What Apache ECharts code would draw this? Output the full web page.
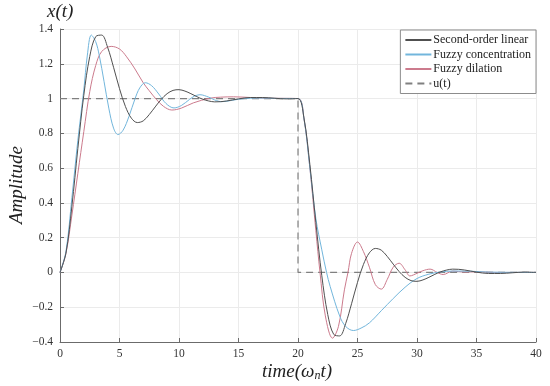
<!DOCTYPE html>
<html>
<head>
<meta charset="utf-8">
<script src="https://cdn.jsdelivr.net/npm/echarts@6/dist/echarts.min.js"></script>
<style>html,body{margin:0;padding:0;background:#fff}#c{width:550px;height:386px}</style>
</head>
<body>
<div id="c"></div>
<script>
const seriesNames = ['Second-order linear', 'Fuzzy concentration', 'Fuzzy dilation', 'u(t)'];
const xTicks = [0, 5, 10, 15, 20, 25, 30, 35, 40];
const yTicks = [-0.4, -0.2, 0, 0.2, 0.4, 0.6, 0.8, 1, 1.2, 1.4];

const linearData = [
  [0,0],[0.5,0.111],[1,0.381],[1.5,0.713],[2,1.019],[2.5,1.242],[3,1.356],[3.5,1.365],[4,1.295],[4.5,1.18],
  [5,1.057],[5.5,0.954],[6,0.887],[6.5,0.862],[7,0.872],[7.5,0.908],[8,0.952],[8.5,0.995],[9,1.028],[9.5,1.047],
  [10,1.051],[10.5,1.043],[11,1.028],[11.5,1.011],[12,0.996],[12.5,0.986],[13,0.981],[13.5,0.982],[14,0.986],
  [15,0.998],[16,1.006],[17,1.006],[18,1.002],[19,0.998],[20,1.0],
  [20.5,0.889],[21,0.619],[21.5,0.287],[22,-0.019],[22.5,-0.242],[23,-0.356],[23.5,-0.365],[24,-0.295],[24.5,-0.18],
  [25,-0.057],[25.5,0.046],[26,0.113],[26.5,0.138],[27,0.128],[27.5,0.092],[28,0.048],[28.5,0.005],[29,-0.028],
  [29.5,-0.047],[30,-0.051],[30.5,-0.043],[31,-0.028],[31.5,-0.011],[32,0.004],[32.5,0.014],[33,0.019],[33.5,0.018],
  [34,0.014],[35,0.002],[36,-0.006],[37,-0.006],[38,-0.002],[39,0.002],[40,0]
];
const concentrationData = [
  [0,0],[0.5,0.12],[1,0.43],[1.5,0.76],[2,1.05],[2.3,1.25],[2.63,1.365],[3,1.327],[3.3,1.248],[3.7,1.099],
  [4.1,0.945],[4.5,0.83],[4.87,0.793],[5.3,0.818],[5.8,0.898],[6.3,0.998],[6.7,1.061],[7.17,1.091],[7.7,1.074],
  [8.3,1.026],[8.9,0.972],[9.58,0.946],[10.2,0.96],[10.9,0.996],[11.3,1.014],[11.76,1.022],[12.5,1.008],[13,0.992],
  [13.6,0.982],[14.3,0.988],[15,0.996],[16,1.002],[17,1.003],[18,1.001],[20,1.0],
  [20.5,0.885],[21,0.6],[21.5,0.31],[22,0.13],[22.4,0],[22.7,-0.08],[23.5,-0.25],[24,-0.31],[24.65,-0.334],
  [25.3,-0.32],[26,-0.29],[27,-0.22],[28,-0.15],[29,-0.085],[30,-0.035],[31,-0.01],[32,0.003],[33,0.008],
  [34.5,0.007],[36,0.002],[40,0]
];
const dilationData = [
  [0,0],[0.5,0.11],[1,0.33],[1.5,0.57],[2,0.81],[2.5,1.04],[3,1.19],[3.5,1.27],[4.3,1.30],[5,1.285],
  [5.6,1.24],[6.3,1.17],[7,1.09],[7.5,1.045],[8.1,0.995],[8.7,0.955],[9.4,0.934],[10.2,0.945],[11.2,0.975],
  [12.6,1.002],[13.5,1.008],[14.6,1.01],[16,1.006],[17.5,1.002],[20,1.0],
  [20.5,0.885],[21,0.6],[21.5,0.24],[21.85,0],[22.3,-0.25],[22.9,-0.378],[23.4,-0.31],[23.9,-0.1],[24.2,0],
  [24.5,0.11],[25,0.175],[25.5,0.12],[26,0.03],[26.5,-0.07],[27,-0.096],[27.5,-0.04],[28,0.03],[28.5,0.053],
  [29,0.015],[29.4,-0.02],[30,-0.005],[30.5,0.01],[31.1,0.019],[31.7,0],[32.2,-0.012],[33,0.008],[34,0.002],
  [35,0.004],[36.5,0],[40,0]
];
const stepData = [[0,1],[20,1],[20,0],[40,0]];

const serif = '"Liberation Serif", "DejaVu Serif", serif';
const chart = echarts.init(document.getElementById('c'), null, {renderer: 'canvas'});
const axisCol = '#6b6b6b';
function fmt(v) {
  const s = String(+(+v).toFixed(1));
  return s.replace('-', '\u2212');
}
chart.setOption({
  animation: false,
  backgroundColor: '#ffffff',
  grid: {left: 60, right: 14, top: 29, bottom: 44, containLabel: false},
  xAxis: {
    type: 'value', min: xTicks[0], max: xTicks[xTicks.length - 1], interval: 5,
    axisLine: {onZero: false, lineStyle: {color: axisCol, width: 1}},
    axisTick: {inside: true, length: 4, lineStyle: {color: axisCol}},
    axisLabel: {color: '#333', fontFamily: serif, fontSize: 11.5, margin: 6, formatter: fmt},
    splitLine: {show: true, lineStyle: {color: '#ebebeb', width: 1}}
  },
  yAxis: {
    type: 'value', min: yTicks[0], max: yTicks[yTicks.length - 1], interval: 0.2,
    axisLine: {show: true, onZero: false, lineStyle: {color: axisCol, width: 1}},
    axisTick: {show: true, inside: true, length: 4, lineStyle: {color: axisCol}},
    axisLabel: {color: '#333', fontFamily: serif, fontSize: 11.5, margin: 7, formatter: fmt},
    splitLine: {show: true, lineStyle: {color: '#ebebeb', width: 1}}
  },
  legend: {
    orient: 'vertical', right: 14, top: 30,
    data: seriesNames,
    backgroundColor: '#fff', borderColor: '#8c8c8c', borderWidth: 1,
    padding: [4, 5, 4, 4], itemGap: 2.5, itemWidth: 26, itemHeight: 11,
    itemStyle: {opacity: 0, borderWidth: 0},
    textStyle: {fontFamily: serif, fontSize: 12, color: '#222', padding: [0, 0, 0, -3]}
  },
  series: [
    {name: seriesNames[0], type: 'line', data: linearData, smooth: 0.35, symbol: 'none',
     lineStyle: {color: '#505050', width: 1}, itemStyle: {color: '#505050'}, z: 4},
    {name: seriesNames[1], type: 'line', data: concentrationData, smooth: 0.35, symbol: 'none',
     lineStyle: {color: '#72b6dc', width: 1}, itemStyle: {color: '#72b6dc'}, z: 3},
    {name: seriesNames[2], type: 'line', data: dilationData, smooth: 0.35, symbol: 'none',
     lineStyle: {color: '#cc7b8d', width: 1}, itemStyle: {color: '#cc7b8d'}, z: 2},
    {name: seriesNames[3], type: 'line', data: stepData, symbol: 'none',
     lineStyle: {color: '#808080', width: 1.2, type: [7, 5]}, itemStyle: {color: '#808080'}, z: 1}
  ],
  graphic: [
    {type: 'text', left: 47, top: 2,
     style: {text: 'x(t)', font: 'italic 19px ' + serif, fill: '#222'}},
    {type: 'text', x: 17, y: 185, rotation: Math.PI / 2,
     style: {text: 'Amplitude', font: 'italic 19px ' + serif, fill: '#222', textAlign: 'center', textVerticalAlign: 'middle'}},
    {type: 'text', x: 297, y: 372,
     style: {text: '{a|time(ω}{s|n}{a|t)}', textAlign: 'center', textVerticalAlign: 'middle',
       rich: {a: {font: 'italic 19px ' + serif, fill: '#222', color: '#222'},
              s: {font: 'italic 12px ' + serif, fill: '#222', color: '#222', padding: [8, 0, 0, 0]}}}}
  ]
});
</script>
</body>
</html>
